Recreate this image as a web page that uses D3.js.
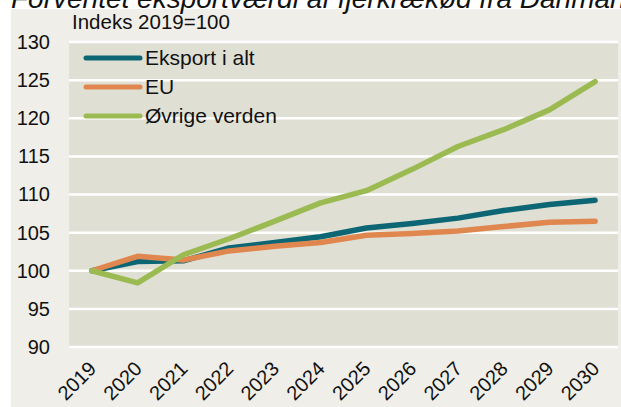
<!DOCTYPE html>
<html>
<head>
<meta charset="utf-8">
<script src="https://cdn.jsdelivr.net/npm/d3@7"></script>
<style>
  body { margin: 0; background: #ffffff; }
  svg text { font-family: "Liberation Sans", Arial, sans-serif; fill: #111; }
</style>
</head>
<body>
<div id="chart"></div>
<script>
var svgWidth = 621;
var svgHeight = 407;

// data
var years = ["2019", "2020", "2021", "2022", "2023", "2024", "2025", "2026", "2027", "2028", "2029", "2030"];
var eksportIAlt = [100, 101.2, 101.3, 103.0, 103.7, 104.45, 105.6, 106.2, 106.9, 107.9, 108.7, 109.25];
var eu = [100, 101.9, 101.4, 102.6, 103.2, 103.7, 104.65, 104.9, 105.2, 105.8, 106.35, 106.5];
var oevrigeVerden = [100, 98.4, 102.1, 104.2, 106.5, 108.9, 110.5, 113.3, 116.3, 118.5, 121.1, 124.8];
var yTicks = [90, 95, 100, 105, 110, 115, 120, 125, 130];

var series = [
  { name: "Eksport i alt", values: eksportIAlt, color: "#0d6673" },
  { name: "EU", values: eu, color: "#e0874f" },
  { name: "Øvrige verden", values: oevrigeVerden, color: "#9bbb52" }
];

var margin = { top: 42, right: 3, bottom: 60, left: 69 };
var chartWidth = svgWidth - margin.left - margin.right;
var chartHeight = svgHeight - margin.top - margin.bottom;

var svg = d3.select("#chart")
  .append("svg")
  .attr("width", svgWidth)
  .attr("height", svgHeight);

// outer panel
svg.append("rect")
  .attr("x", 11).attr("y", 9)
  .attr("width", svgWidth - 11).attr("height", svgHeight - 9)
  .attr("fill", "#efeee8");

// title, cut off at the top like in the source
svg.append("text")
  .attr("x", 11).attr("y", 7.5)
  .attr("font-size", "28px")
  .attr("font-style", "italic")
  .text("Forventet eksportværdi af fjerkrækød fra Danmark");

var chartGroup = svg.append("g")
  .attr("transform", `translate(${margin.left}, ${margin.top})`);

chartGroup.append("rect")
  .attr("width", chartWidth)
  .attr("height", chartHeight)
  .attr("fill", "#e0dfd4");

var xScale = d3.scalePoint()
  .domain(years)
  .range([0, chartWidth])
  .padding(0.5);

var yScale = d3.scaleLinear()
  .domain([90, 130])
  .range([chartHeight, 0]);

// gridlines
chartGroup.selectAll(".grid")
  .data(yTicks)
  .enter()
  .append("line")
  .attr("x1", 0).attr("x2", chartWidth)
  .attr("y1", d => yScale(d)).attr("y2", d => yScale(d))
  .attr("stroke", "#ffffff")
  .attr("stroke-width", 2.5);

// y axis labels
var leftAxis = d3.axisLeft(yScale).tickValues(yTicks).tickSize(0).tickPadding(19);
var yAxis = chartGroup.append("g").call(leftAxis);
yAxis.select(".domain").remove();
yAxis.selectAll("text")
  .attr("font-size", "20px")
  .attr("font-family", "Liberation Sans, Arial, sans-serif")
  .attr("fill", "#111");

// x axis labels, rotated
var bottomAxis = d3.axisBottom(xScale).tickSize(0);
var xAxis = chartGroup.append("g")
  .attr("transform", `translate(0, ${chartHeight})`)
  .call(bottomAxis);
xAxis.select(".domain").remove();
xAxis.selectAll("text")
  .attr("font-size", "20px")
  .attr("font-family", "Liberation Sans, Arial, sans-serif")
  .attr("fill", "#111")
  .attr("text-anchor", "end")
  .attr("dy", null)
  .attr("y", 0)
  .attr("transform", "translate(5, 23) rotate(-45)");

// lines
var line = d3.line()
  .x((d, i) => xScale(years[i]))
  .y(d => yScale(d));

chartGroup.selectAll(".series")
  .data(series)
  .enter()
  .append("path")
  .attr("d", d => line(d.values))
  .attr("fill", "none")
  .attr("stroke", d => d.color)
  .attr("stroke-width", 5.5)
  .attr("stroke-linejoin", "round")
  .attr("stroke-linecap", "round");

// axis title
svg.append("text")
  .attr("x", 72).attr("y", 29)
  .attr("font-size", "20.5px")
  .text("Indeks 2019=100");

// legend
var legend = svg.selectAll(".legend")
  .data(series)
  .enter()
  .append("g")
  .attr("transform", (d, i) => `translate(86, ${58 + i * 29})`);

legend.append("line")
  .attr("x1", 0).attr("x2", 54)
  .attr("stroke", d => d.color)
  .attr("stroke-width", 5)
  .attr("stroke-linecap", "round");

legend.append("text")
  .attr("x", 59).attr("y", 7)
  .attr("font-size", "21px")
  .text(d => d.name);
</script>
</body>
</html>
